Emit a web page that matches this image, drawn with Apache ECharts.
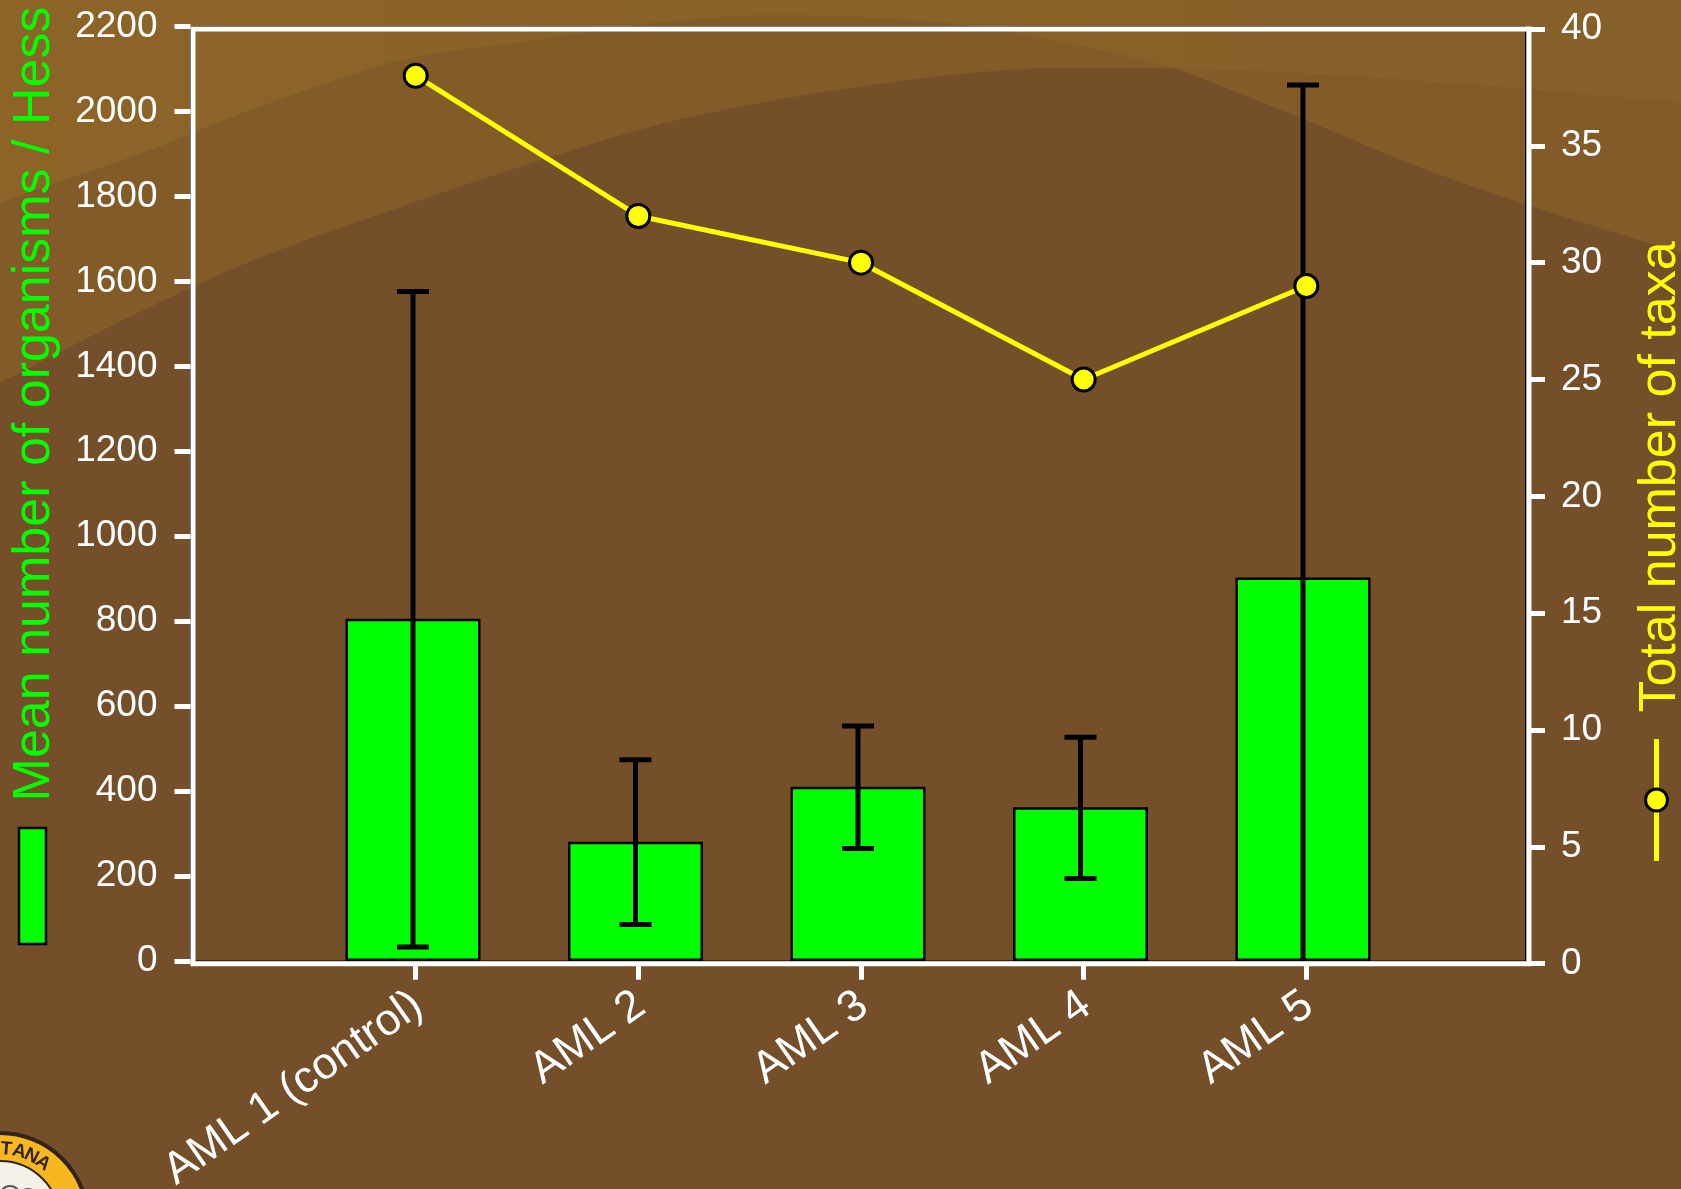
<!DOCTYPE html>
<html>
<head>
<meta charset="utf-8">
<style>
  html, body { margin: 0; padding: 0; background: #744f2a; }
  #wrap { position: relative; width: 1681px; height: 1189px; overflow: hidden; }
  #bands, #chart { position: absolute; left: 0; top: 0; width: 1681px; height: 1189px; }
</style>
<script src="https://cdn.jsdelivr.net/npm/echarts@6/dist/echarts.min.js"></script>
</head>
<body>
<div id="wrap">
  <!-- the slide backdrop behind the chart: two overlapping hills, darker where they overlap -->
  <svg id="bands" viewBox="0 0 1681 1189">
    <defs>
      <linearGradient id="topFill" x1="0" y1="0" x2="1" y2="0">
        <stop offset="0" stop-color="#8d6428" />
        <stop offset="1" stop-color="#86602a" />
      </linearGradient>
      <path id="hillA" d="M0 203 C60 180 130 160 193 133 C260 105 320 85 375 67 C430 50 480 48 536 40 C620 27 700 15 772 15 C860 15 950 20 1018 33 C1080 45 1130 55 1179 70 C1260 100 1330 130 1393 157 C1490 195 1590 225 1681 253 L1681 1189 L0 1189 Z" />
      <path id="hillB" d="M0 383 C65 350 130 315 193 287 C270 250 350 225 429 197 C510 170 590 143 664 123 C750 103 830 90 911 80 C965 72 1020 68 1072 68 C1145 67 1215 69 1286 72 C1420 80 1550 90 1681 103 L1681 1189 L0 1189 Z" />
      <clipPath id="clipA"><use href="#hillA" /></clipPath>
    </defs>
    <rect width="1681" height="1189" fill="url(#topFill)" />
    <use href="#hillA" fill="#825b29" />
    <use href="#hillB" fill="#825b29" />
    <use href="#hillB" fill="#744f2a" clip-path="url(#clipA)" />
  </svg>
  <div id="chart"></div>
</div>
<script>
const sites = ['AML 1 (control)', 'AML 2', 'AML 3', 'AML 4', 'AML 5']
const meanOrganisms = [806, 281, 410, 362, 903]
const errorLow = [33, 86, 265, 194, -264]
const errorHigh = [1576, 474, 553, 527, 2062]
const totalTaxa = [38, 32, 30, 25, 29]
const leftTitle = 'Mean number of organisms / Hess'
const rightTitle = 'Total number of taxa'
const logoLetters = ['T', 'A', 'N', 'A']
const logoAngles = [5, 15.5, 26, 36.5]

const FONT = '"Liberation Sans", Arial, sans-serif'
const GREEN = '#00ff00'
const YELLOW = '#ffff00'

// blank first and last slot leave the half-empty space either side of the bars
const categories = ['', ...sites, '']
const toPairs = arr => arr.map((v, i) => [i + 1, v])

function renderError (params, api) {
  const x = api.value(0)
  const low = api.coord([x, api.value(1)])
  const high = api.coord([x, api.value(2)])
  const style = { stroke: '#000', lineWidth: 5, fill: null }
  const cap = 16
  return {
    type: 'group',
    children: [
      { type: 'line', shape: { x1: low[0], y1: low[1], x2: high[0], y2: high[1] }, style },
      { type: 'line', shape: { x1: low[0] - cap, y1: low[1], x2: low[0] + cap, y2: low[1] }, style },
      { type: 'line', shape: { x1: high[0] - cap, y1: high[1], x2: high[0] + cap, y2: high[1] }, style }
    ]
  }
}

// seal, axis titles and the two legend keys
const decorations = [
  { type: 'circle', z: -10, silent: true, shape: { cx: 0, cy: 1221, r: 88 }, style: { fill: '#f7b81f', stroke: '#33241a', lineWidth: 4 } },
  { type: 'circle', z: -9, silent: true, shape: { cx: 0, cy: 1221, r: 60 }, style: { fill: '#f4f1ea', stroke: '#33241a', lineWidth: 2 } },
  { type: 'circle', z: -8, silent: true, shape: { cx: 10, cy: 1196, r: 10 }, style: { fill: 'none', stroke: '#555', lineWidth: 2 } },
  { type: 'circle', z: -8, silent: true, shape: { cx: 28, cy: 1198, r: 9 }, style: { fill: 'none', stroke: '#555', lineWidth: 2 } },
  ...logoLetters.map((letter, i) => {
    const a = logoAngles[i] * Math.PI / 180
    return {
      type: 'text', z: -7, silent: true,
      x: 72 * Math.sin(a), y: 1221 - 72 * Math.cos(a), rotation: -a,
      style: { text: letter, font: 'bold 19px ' + FONT, fill: '#33241a', textAlign: 'center', textVerticalAlign: 'middle' }
    }
  }),
  { type: 'text', z: 5, silent: true, x: 35, y: 404, rotation: Math.PI / 2,
    style: { text: leftTitle, font: '52px ' + FONT, fill: GREEN, textAlign: 'center', textVerticalAlign: 'middle' } },
  { type: 'text', z: 5, silent: true, x: 1661, y: 477, rotation: Math.PI / 2,
    style: { text: rightTitle, font: '52px ' + FONT, fill: YELLOW, textAlign: 'center', textVerticalAlign: 'middle' } },
  { type: 'rect', z: 5, silent: true, shape: { x: 19, y: 828, width: 27, height: 116 }, style: { fill: GREEN, stroke: '#000', lineWidth: 2.5 } },
  { type: 'line', z: 5, silent: true, shape: { x1: 1656.5, y1: 739, x2: 1656.5, y2: 861 }, style: { stroke: YELLOW, lineWidth: 5 } },
  { type: 'circle', z: 6, silent: true, shape: { cx: 1656.5, cy: 800, r: 11 }, style: { fill: YELLOW, stroke: '#000', lineWidth: 3 } }
]

const whiteTick = { show: true, length: 16, lineStyle: { color: '#fff', width: 5 } }
const numberLabel = { color: '#fff', fontSize: 37, fontFamily: FONT, padding: [40, 0, 0, 0], formatter: v => String(v) }

const option = {
  animation: false,
  backgroundColor: 'transparent',
  textStyle: { fontFamily: FONT },
  graphic: { elements: decorations },
  // the bars and the taxa line sit on two plot frames a few pixels apart
  grid: [
    { left: 190.5, right: 155.5, top: 26.5, bottom: 228, outerBoundsMode: 'none', show: true, borderColor: '#000', borderWidth: 1, backgroundColor: 'transparent' },
    { left: 193, right: 152, top: 29, bottom: 225.3, outerBoundsMode: 'none', show: true, borderColor: '#fff', borderWidth: 5, backgroundColor: 'transparent' }
  ],
  xAxis: [
    { gridIndex: 0, type: 'category', data: categories, boundaryGap: false, axisLine: { show: false }, axisTick: { show: false }, axisLabel: { show: false } },
    {
      gridIndex: 1,
      type: 'category',
      data: categories,
      boundaryGap: false,
      axisLine: { show: false },
      axisTick: { ...whiteTick, interval: (index, value) => value !== '' },
      axisLabel: { color: '#fff', fontSize: 44.5, fontFamily: FONT, rotate: 35, interval: 0, margin: 39, padding: [0, -3, 0, 0], hideOverlap: false }
    }
  ],
  yAxis: [
    {
      gridIndex: 0,
      type: 'value',
      min: 0,
      max: 2200,
      interval: 200,
      axisLine: { show: false },
      axisTick: whiteTick,
      axisLabel: { ...numberLabel, margin: 33 },
      splitLine: { show: false }
    },
    {
      gridIndex: 1,
      type: 'value',
      position: 'right',
      min: 0,
      max: 40,
      interval: 5,
      axisLine: { show: false },
      axisTick: whiteTick,
      axisLabel: { ...numberLabel, margin: 32 },
      splitLine: { show: false }
    }
  ],
  series: [
    {
      name: leftTitle,
      type: 'bar',
      xAxisIndex: 0,
      yAxisIndex: 0,
      data: toPairs(meanOrganisms),
      barWidth: 135,
      z: 2,
      itemStyle: { color: GREEN, borderColor: '#000', borderWidth: 2.5 }
    },
    {
      name: 'error',
      type: 'custom',
      xAxisIndex: 0,
      yAxisIndex: 0,
      clip: true,
      z: 3,
      data: errorLow.map((low, i) => [i + 1, low, errorHigh[i]]),
      encode: { x: 0, y: [1, 2] },
      renderItem: renderError
    },
    {
      name: rightTitle,
      type: 'line',
      xAxisIndex: 1,
      yAxisIndex: 1,
      data: toPairs(totalTaxa),
      z: 4,
      symbol: 'circle',
      symbolSize: 23,
      lineStyle: { color: YELLOW, width: 5 },
      itemStyle: { color: YELLOW, borderColor: '#000', borderWidth: 3 }
    }
  ]
}

const myChart = echarts.init(document.getElementById('chart'))
myChart.setOption(option)
</script>
</body>
</html>
